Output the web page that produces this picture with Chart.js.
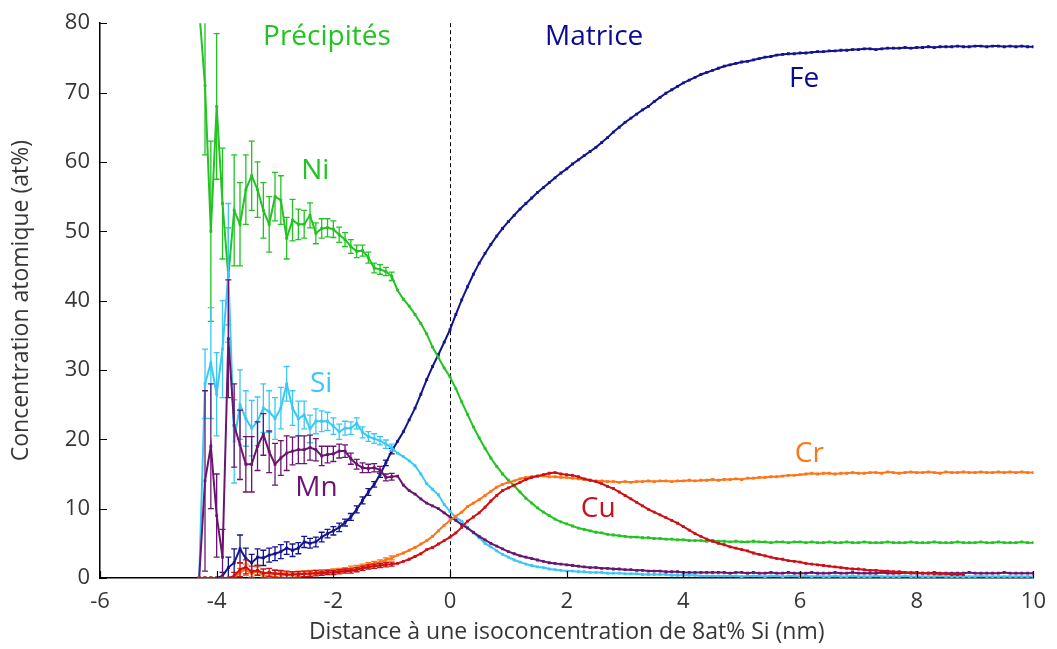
<!DOCTYPE html>
<html>
<head>
<meta charset="utf-8">
<script src="https://cdn.jsdelivr.net/npm/chart.js@4"></script>
<style>
  html, body { margin: 0; padding: 0; background: #fff; }
  #wrap { width: 1057px; height: 649px; }
</style>
</head>
<body>
<div id="wrap"><canvas id="c" width="1057" height="649"></canvas></div>
<script>
// distance grid (nm), one point every 0.1 nm from -4.3 to 10.0
const distances = [];
for (let i = 0; i <= 143; i++) distances.push(+(-4.3 + i * 0.1).toFixed(1));

const xTicks = [-6, -4, -2, 0, 2, 4, 6, 8, 10];
const yTicks = [0, 10, 20, 30, 40, 50, 60, 70, 80];

// concentrations (at%)
const ni = [82, 71, 50, 68, 54, 43.5, 53, 51, 56, 58,
  56, 53, 51, 55, 54.5, 49, 51.6, 51, 51, 52.3,
  49.7, 50.4, 50.5, 50.3, 49.5, 48.8, 47.8, 47.1, 47.2, 46.2,
  44.7, 44.5, 44.2, 43.5, 41.5, 40.2, 39.2, 38, 36.7, 35.2,
  33.3, 31.8, 30.3, 29.0, 27.3, 25.4, 23.6, 21.8, 20.2, 18.7,
  17.3, 16.1, 15.0, 14.1, 13.3, 12.4, 11.5, 10.8, 10.1, 9.5,
  9.0, 8.5, 8.1, 7.8, 7.5, 7.2, 7.0, 6.8, 6.6, 6.5,
  6.3, 6.2, 6.1, 6.0, 5.9, 5.9, 5.8, 5.8, 5.7, 5.7,
  5.6, 5.6, 5.5, 5.5, 5.4, 5.4, 5.4, 5.3, 5.4, 5.3,
  5.3, 5.2, 5.3, 5.2, 5.2, 5.3, 5.2, 5.2, 5.1, 5.2,
  5.2, 5.1, 5.2, 5.2, 5.1, 5.2, 5.1, 5.1, 5.2, 5.1,
  5.1, 5.2, 5.1, 5.1, 5.2, 5.1, 5.1, 5.1, 5.2, 5.1,
  5.1, 5.1, 5.2, 5.1, 5.1, 5.1, 5.2, 5.1, 5.1, 5.1,
  5.2, 5.1, 5.1, 5.1, 5.2, 5.1, 5.1, 5.2, 5.1, 5.1,
  5.1, 5.2, 5.1, 5.1];

const fe = [0, 0, 0, 0, 0.3, 1.5, 2.2, 4.2, 2.8, 2.2,
  3.0, 2.9, 3.3, 3.5, 3.8, 4.3, 4.0, 4.3, 5.2, 5.0,
  5.2, 5.9, 6.4, 6.8, 7.3, 8.0, 8.8, 9.9, 11.2, 12.4,
  13.5, 14.9, 16.6, 18.3, 19.7, 21.1, 22.8, 24.5, 26.5, 28.6,
  30.5, 32.2, 34.0, 35.8, 38.0, 40.1, 42.0, 43.8, 45.4, 46.8,
  48.1, 49.3, 50.4, 51.4, 52.3, 53.2, 54.0, 54.8, 55.6, 56.3,
  57.0, 57.7, 58.4, 59.0, 59.7, 60.3, 60.9, 61.5, 62.1, 62.8,
  63.5, 64.3, 65.0, 65.7, 66.3, 66.9, 67.5, 68.0, 68.7, 69.3,
  69.9, 70.4, 70.9, 71.4, 71.8, 72.2, 72.6, 72.9, 73.2, 73.5,
  73.8, 74.0, 74.2, 74.4, 74.5, 74.7, 74.9, 75.1, 75.2, 75.4,
  75.5, 75.6, 75.6, 75.7, 75.7, 75.8, 75.9, 75.9, 76.0, 76.0,
  76.1, 76.1, 76.2, 76.2, 76.3, 76.3, 76.2, 76.3, 76.4, 76.4,
  76.4, 76.5, 76.4, 76.5, 76.5, 76.6, 76.5, 76.6, 76.6, 76.6,
  76.7, 76.6, 76.6, 76.7, 76.7, 76.6, 76.7, 76.7, 76.6, 76.7,
  76.6, 76.7, 76.6, 76.6];

const si = [0, 28, 31, 26.5, 33, 44, 19.7, 25, 23, 21.6,
  22.6, 24.5, 24.0, 23.0, 24.5, 28.0, 24.5, 23.0, 23.5, 21.5,
  22.6, 22.6, 22.6, 21.9, 21.1, 21.6, 21.6, 22.3, 21.0, 20.4,
  20.1, 19.8, 19.3, 18.8, 18.0, 17.5, 16.9, 16.2, 15.0, 13.6,
  12.8, 12.0, 10.6, 9.6, 8.7, 8.2, 7.3, 6.5, 5.8, 5.0,
  4.5, 3.9, 3.4, 3.0, 2.6, 2.3, 2.0, 1.8, 1.6, 1.5,
  1.3, 1.2, 1.1, 1.0, 1.0, 0.9, 0.9, 0.8, 0.8, 0.8,
  0.7, 0.7, 0.7, 0.6, 0.6, 0.6, 0.5, 0.5, 0.5, 0.5,
  0.5, 0.4, 0.4, 0.4, 0.4, 0.4, 0.3, 0.3, 0.3, 0.3,
  0.3, 0.3, 0.3, 0.2, 0.3, 0.3, 0.3, 0.2, 0.3, 0.3,
  0.2, 0.3, 0.3, 0.2, 0.3, 0.2, 0.3, 0.2, 0.2, 0.3,
  0.2, 0.2, 0.3, 0.2, 0.2, 0.2, 0.3, 0.2, 0.2, 0.2,
  0.2, 0.3, 0.2, 0.2, 0.2, 0.2, 0.2, 0.3, 0.2, 0.2,
  0.2, 0.2, 0.2, 0.2, 0.3, 0.2, 0.2, 0.2, 0.2, 0.2,
  0.2, 0.2, 0.2, 0.2];

const mn = [0, 14, 19, 9, 3, 34.5, 22, 19.2, 16.4, 16.4,
  19.0, 20.7, 18.2, 16.4, 17.3, 18.0, 18.3, 18.5, 18.5, 18.8,
  18.5, 17.6, 17.8, 17.9, 18.3, 18.3, 17.2, 16.4, 15.9, 15.8,
  15.9, 15.6, 14.5, 14.6, 14.7, 13.4, 12.6, 12.1, 11.4, 10.8,
  10.4, 10.0, 9.4, 8.8, 8.3, 7.7, 7.2, 6.6, 6.0, 5.5,
  5.0, 4.6, 4.2, 3.8, 3.5, 3.2, 3.0, 2.8, 2.6, 2.4,
  2.2, 2.1, 2.0, 1.9, 1.8, 1.7, 1.6, 1.5, 1.5, 1.4,
  1.4, 1.3, 1.3, 1.2, 1.2, 1.1, 1.1, 1.0, 1.0, 1.0,
  0.9, 0.9, 0.9, 0.8, 0.8, 0.8, 0.8, 0.8, 0.8, 0.8,
  0.8, 0.7, 0.8, 0.8, 0.7, 0.8, 0.7, 0.7, 0.8, 0.7,
  0.7, 0.8, 0.7, 0.7, 0.7, 0.8, 0.7, 0.7, 0.7, 0.8,
  0.7, 0.7, 0.8, 0.7, 0.7, 0.7, 0.7, 0.8, 0.7, 0.7,
  0.7, 0.8, 0.7, 0.7, 0.7, 0.7, 0.8, 0.7, 0.7, 0.7,
  0.7, 0.7, 0.8, 0.7, 0.7, 0.7, 0.7, 0.7, 0.8, 0.7,
  0.7, 0.7, 0.7, 0.7];

const cr = [0, 0, 0, 0, 0, 0, 0, 0.8, 1.2, 0.6,
  1.0, 0.4, 0.3, 0.7, 0.5, 0.4, 0.5, 0.6, 0.6, 0.7,
  0.8, 0.9, 0.9, 1.0, 1.1, 1.2, 1.4, 1.5, 1.7, 1.9,
  2.1, 2.3, 2.6, 2.9, 3.3, 3.6, 4.0, 4.4, 4.9, 5.4,
  6.0, 6.8, 7.6, 8.3, 8.9, 9.5, 10.3, 10.8, 11.3, 11.9,
  12.5, 13.1, 13.5, 13.8, 14.0, 14.3, 14.5, 14.6, 14.7, 14.7,
  14.6, 14.6, 14.5, 14.5, 14.4, 14.3, 14.2, 14.1, 14.0, 14.0,
  13.9, 13.9, 13.8, 13.9, 13.8, 13.9, 13.9, 14.0, 13.9, 14.0,
  14.0, 13.9, 14.0, 14.0, 14.1, 14.0, 14.1, 14.1, 14.2, 14.1,
  14.2, 14.2, 14.3, 14.2, 14.4, 14.4, 14.5, 14.5, 14.6, 14.6,
  14.7, 14.8, 14.8, 14.9, 15.0, 15.1, 15.0, 15.1, 15.1, 15.0,
  15.1, 15.1, 15.2, 15.1, 15.1, 15.2, 15.2, 15.1, 15.3, 15.2,
  15.1, 15.2, 15.3, 15.2, 15.2, 15.3, 15.2, 15.1, 15.3, 15.2,
  15.2, 15.3, 15.2, 15.2, 15.3, 15.2, 15.2, 15.3, 15.2, 15.3,
  15.2, 15.3, 15.2, 15.2];

const cu = [0, 0, 0, 0, 0, 0, 0.3, 1.2, 1.6, 0.9,
  1.1, 0.7, 0.8, 0.6, 0.6, 0.5, 0.5, 0.5, 0.6, 0.6,
  0.7, 0.7, 0.8, 0.8, 0.9, 1.0, 1.0, 1.2, 1.4, 1.6,
  1.7, 1.8, 1.9, 2.0, 2.1, 2.4, 2.7, 3.1, 3.5, 4.1,
  4.4, 4.9, 5.4, 5.9, 6.5, 7.3, 8.2, 8.8, 9.4, 10.2,
  11.1, 11.9, 12.6, 13.0, 13.4, 13.8, 14.2, 14.5, 14.7, 14.9,
  15.1, 15.2, 15.0, 14.9, 14.8, 14.6, 14.3, 14.1, 13.9, 13.6,
  13.2, 12.9, 12.4, 11.9, 11.4, 10.9, 10.4, 9.9, 9.5, 9.1,
  8.7, 8.3, 7.9, 7.4, 6.9, 6.4, 6.0, 5.6, 5.3, 5.0,
  4.8, 4.5, 4.3, 4.1, 3.9, 3.6, 3.4, 3.2, 3.0, 2.8,
  2.7, 2.5, 2.4, 2.3, 2.1, 2.0, 1.9, 1.8, 1.7, 1.6,
  1.5, 1.4, 1.3, 1.3, 1.2, 1.1, 1.1, 1.0, 1.0, 0.9,
  0.9, 0.8, 0.8, 0.8, 0.7, 0.7, 0.6, 0.6, 0.6, 0.5,
  0.5, 0.5, null, null, null, null, null, null, null, null,
  null, null, null, null];

// error bars (at%), given for the first points only (-4.3 to -1.0 nm)
const niErr = [0, 10, 13, 10.5, 8, 7, 8, 6, 5, 5,
  4, 4, 4, 3.5, 3.5, 3, 3, 2.2, 2, 1.8,
  1.5, 1.4, 1.3, 1.2, 1.1, 1, 1, 0.9, 0.8, 0.8,
  0.7, 0.7, 0.6, 0.6];
const siErr = [0, 5, 8, 6, 7, 10, 6, 5, 4, 4,
  3.5, 3.5, 3, 3, 3, 2.5, 2.5, 2.5, 2, 2,
  1.8, 1.5, 1.3, 1.2, 1.1, 1, 0.9, 0.8, 0.8, 0.7,
  0.7, 0.6, 0.6, 0.5];
const mnErr = [0, 13, 9, 6, 4, 8.5, 6, 5, 4, 4,
  3.5, 3, 3, 3, 2.5, 2.5, 2, 2, 2, 1.8,
  1.6, 1.4, 1.2, 1.1, 1, 0.9, 0.8, 0.7, 0.7, 0.6,
  0.6, 0.5, 0.5, 0.5];
const feErr = [0, 0, 0, 0, 0.5, 1.5, 2, 2, 1.5, 1.2,
  1.2, 1.1, 1, 1, 1, 0.9, 0.9, 0.8, 0.8, 0.7,
  0.7, 0.7, 0.6, 0.6, 0.6, 0.5, 0.5, 0.5, 0.5, 0.5,
  0.4, 0.4, 0.4, 0.4];
const cuErr = [0, 0, 0, 0, 0, 0, 0.5, 1, 1, 0.8,
  0.7, 0.6, 0.6, 0.5, 0.5, 0.5, 0.4, 0.4, 0.4, 0.4,
  0.4, 0.3, 0.3, 0.3, 0.3, 0.3, 0.3, 0.3, 0.3, 0.3,
  0.3, 0.3, 0.3, 0.3];
const crErr = [0, 0, 0, 0, 0, 0, 0, 0.6, 0.8, 0.5,
  0.6, 0.4, 0.4, 0.5, 0.4, 0.4, 0.4, 0.4, 0.4, 0.4,
  0.3, 0.3, 0.3, 0.3, 0.3, 0.3, 0.3, 0.3, 0.3, 0.3,
  0.3, 0.3, 0.3, 0.3];

const FONT = "'Open Sans', 'DejaVu Sans', sans-serif";
const GREY = '#363636';

function series(label, values, errs, color) {
  return {
    label: label,
    data: distances.map((d, i) => ({ x: d, y: values[i] })),
    errors: errs,
    borderColor: color,
    backgroundColor: color,
    borderWidth: 2,
    pointStyle: 'rect',
    pointRadius: 2,
    pointBorderWidth: 0,
    spanGaps: false,
    tension: 0
  };
}

// little vertical error bars with caps
const errorBars = {
  id: 'errorBars',
  afterDatasetDraw(chart, args) {
    const ds = chart.data.datasets[args.index];
    if (!ds.errors) return;
    const ctx = chart.ctx, y = chart.scales.y, a = chart.chartArea;
    ctx.save();
    ctx.beginPath();
    ctx.rect(a.left, a.top, a.right - a.left, a.bottom - a.top);
    ctx.clip();
    ctx.strokeStyle = ds.borderColor;
    ctx.lineWidth = 1.3;
    args.meta.data.forEach((pt, i) => {
      const e = ds.errors[i];
      const v = ds.data[i].y;
      if (!e || v === null) return;
      const top = y.getPixelForValue(v + e);
      const bot = y.getPixelForValue(Math.max(v - e, 0));
      ctx.beginPath();
      ctx.moveTo(pt.x, top); ctx.lineTo(pt.x, bot);
      ctx.moveTo(pt.x - 3, top); ctx.lineTo(pt.x + 3, top);
      ctx.moveTo(pt.x - 3, bot); ctx.lineTo(pt.x + 3, bot);
      ctx.stroke();
    });
    ctx.restore();
  }
};

// dashed interface line, inward ticks, labels in the plot
const decorations = {
  id: 'decorations',
  beforeDatasetsDraw(chart) {
    const ctx = chart.ctx, x = chart.scales.x, a = chart.chartArea;
    const px = Math.round(x.getPixelForValue(0)) + 0.5;
    ctx.save();
    ctx.strokeStyle = '#000';
    ctx.lineWidth = 1;
    ctx.setLineDash([4, 3]);
    ctx.beginPath();
    ctx.moveTo(px, a.top);
    ctx.lineTo(px, a.bottom);
    ctx.stroke();
    ctx.restore();
  },
  afterDraw(chart) {
    const ctx = chart.ctx, x = chart.scales.x, y = chart.scales.y, a = chart.chartArea;
    ctx.save();
    ctx.strokeStyle = '#000';
    ctx.lineWidth = 1.2;
    ctx.beginPath();
    xTicks.forEach(t => {
      const px = Math.round(x.getPixelForValue(t)) + 0.5;
      ctx.moveTo(px, a.bottom); ctx.lineTo(px, a.bottom - 7);
    });
    yTicks.forEach(t => {
      const py = Math.round(y.getPixelForValue(t)) + 0.5;
      ctx.moveTo(a.left, py); ctx.lineTo(a.left + 7, py);
    });
    ctx.stroke();

    const notes = [
      ['Précipités', -2.11, 78, '#22c322'],
      ['Matrice', 2.47, 78, '#0a0a96'],
      ['Ni', -2.31, 58.7, '#22c322'],
      ['Si', -2.21, 27.9, '#3cc8f5'],
      ['Mn', -2.29, 13, '#6a1670'],
      ['Fe', 6.07, 71.9, '#0a0a96'],
      ['Cr', 6.16, 17.9, '#ff7417'],
      ['Cu', 2.54, 10, '#cc1016']
    ];
    ctx.font = '28px ' + FONT;
    ctx.textAlign = 'center';
    ctx.textBaseline = 'middle';
    notes.forEach(n => {
      ctx.fillStyle = n[3];
      ctx.fillText(n[0], x.getPixelForValue(n[1]), y.getPixelForValue(n[2]));
    });
    ctx.restore();
  }
};

new Chart(document.getElementById('c'), {
  type: 'line',
  data: {
    datasets: [
      series('Cu', cu, cuErr, '#cc1016'),
      series('Cr', cr, crErr, '#ff7417'),
      series('Mn', mn, mnErr, '#6a1670'),
      series('Si', si, siErr, '#3cc8f5'),
      series('Ni', ni, niErr, '#22c322'),
      series('Fe', fe, feErr, '#14148f')
    ]
  },
  options: {
    responsive: false,
    animation: false,
    layout: { padding: { top: 18, right: 20, left: 0, bottom: 0 } },
    plugins: { legend: { display: false }, tooltip: { enabled: false } },
    scales: {
      x: {
        type: 'linear',
        min: -6, max: 10,
        afterBuildTicks: s => { s.ticks = xTicks.map(v => ({ value: v })); },
        afterFit: s => { s.height = 71; },
        grid: { display: false, drawTicks: false },
        border: { display: true, color: '#000', width: 1.5 },
        ticks: { color: GREY, font: { family: FONT, size: 22 }, padding: 11, maxRotation: 0 },
        title: { display: true, text: 'Distance à une isoconcentration de 8at% Si (nm)', color: GREY, font: { family: FONT, size: 23 }, padding: { top: 0, bottom: 3 } }
      },
      y: {
        min: 0, max: 80,
        afterBuildTicks: s => { s.ticks = yTicks.map(v => ({ value: v })); },
        afterFit: s => { s.width = 100; },
        grid: { display: false, drawTicks: false },
        border: { display: true, color: '#000', width: 1.5 },
        ticks: { color: GREY, font: { family: FONT, size: 22 }, padding: 10 },
        title: { display: true, text: 'Concentration atomique (at%)', color: GREY, font: { family: FONT, size: 23 }, padding: { top: 8, bottom: 0 } }
      }
    }
  },
  plugins: [errorBars, decorations]
});
</script>
</body>
</html>
